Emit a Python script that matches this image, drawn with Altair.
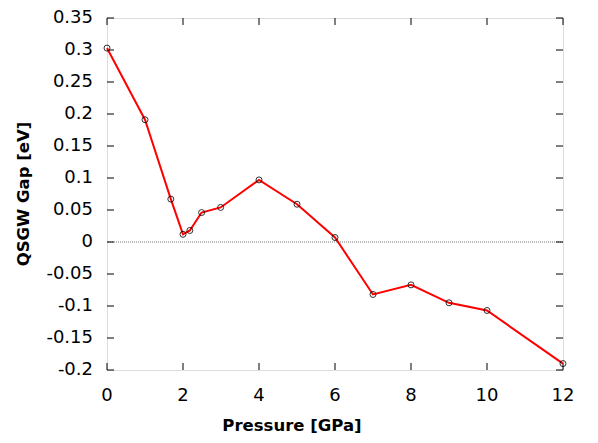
import altair as alt
import pandas as pd

pressure = [0, 1, 1.68, 2.0, 2.18, 2.49, 2.99, 4, 5, 6, 7, 8, 9, 10, 12]
gap = [0.303, 0.191, 0.067, 0.012, 0.018, 0.046, 0.054, 0.097, 0.059, 0.007,
       -0.082, -0.067, -0.095, -0.107, -0.190]
x_ticks = [0, 2, 4, 6, 8, 10, 12]
x_labels = ["0", "2", "4", "6", "8", "10", "12"]
y_ticks = [-0.2, -0.15, -0.1, -0.05, 0, 0.05, 0.1, 0.15, 0.2, 0.25, 0.3, 0.35]
y_labels = ["-0.2", "-0.15", "-0.1", "-0.05", "0", "0.05", "0.1", "0.15", "0.2", "0.25", "0.3", "0.35"]
x_title = "Pressure [GPa]"
y_title = "QSGW Gap [eV]"

W, H = 456, 352
FONT = "DejaVu Sans"

df = pd.DataFrame({"p": pressure, "g": gap})
xt = pd.DataFrame({"x": x_ticks, "lab": x_labels})
yt = pd.DataFrame({"y": y_ticks, "lab": y_labels})

xs = alt.Scale(domain=[0, 12], nice=False, zero=False)
ys = alt.Scale(domain=[-0.2, 0.35], nice=False, zero=False)

X = lambda f: alt.X(f, scale=xs, axis=None)
Y = lambda f: alt.Y(f, scale=ys, axis=None)

base = alt.Chart(df)

line = base.mark_line(color="#ff0000", strokeWidth=2).encode(x=X("p:Q"), y=Y("g:Q"))

pts = base.mark_point(shape="circle", filled=False, color="black", size=36, strokeWidth=1, opacity=0.8).encode(
    x=X("p:Q"), y=Y("g:Q")
)

zero = alt.Chart(pd.DataFrame({"z": [0]})).mark_rule(color="#777777", strokeDash=[1, 1], strokeWidth=1).encode(
    y=Y("z:Q")
)

tl = 7
xb = alt.Chart(xt).mark_rule(color="black").encode(x=X("x:Q"), y=alt.value(H - tl), y2=alt.value(H))
xtop = alt.Chart(xt).mark_rule(color="black").encode(x=X("x:Q"), y=alt.value(0), y2=alt.value(tl))
yl = alt.Chart(yt).mark_rule(color="black").encode(y=Y("y:Q"), x=alt.value(0), x2=alt.value(tl))
yr = alt.Chart(yt).mark_rule(color="black").encode(y=Y("y:Q"), x=alt.value(W - tl), x2=alt.value(W))

xlab = alt.Chart(xt).mark_text(font=FONT, fontSize=18, color="black", align="center", baseline="middle").encode(
    x=X("x:Q"), y=alt.value(H + 26), text="lab:N"
)
ylab = alt.Chart(yt).mark_text(font=FONT, fontSize=18, color="black", align="right", baseline="middle").encode(
    y=Y("y:Q"), x=alt.value(-14), text="lab:N"
)
xtit = alt.Chart(pd.DataFrame({"t": [x_title]})).mark_text(
    font=FONT, fontSize=16.5, fontWeight="bold", color="black", align="center", baseline="middle"
).encode(x=alt.value(185), y=alt.value(H + 56), text="t:N")
ytit = alt.Chart(pd.DataFrame({"t": [y_title]})).mark_text(
    font=FONT, fontSize=16.5, fontWeight="bold", color="black", align="center", baseline="middle", angle=270
).encode(x=alt.value(-83), y=alt.value(H / 2), text="t:N")

chart = alt.layer(zero, xb, xtop, yl, yr, line, pts, xlab, ylab, xtit, ytit).properties(
    width=W, height=H,
    autosize=alt.AutoSizeParams(type="none"),
    padding={"left": 99, "top": 10, "right": 27, "bottom": 66},
).configure_view(stroke="black", strokeWidth=1.2).configure(background="white")

chart.save("out.html", embed_options={"renderer": "svg", "actions": False})
